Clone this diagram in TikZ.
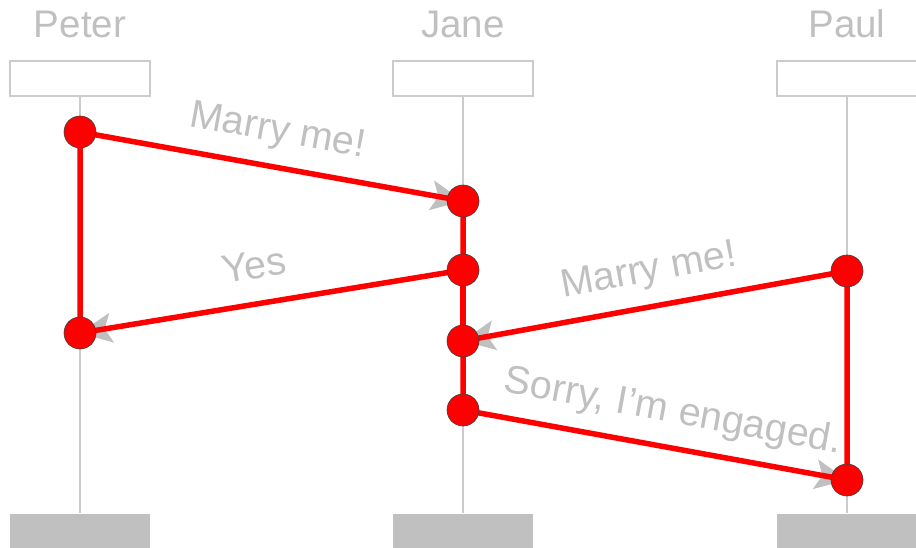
\documentclass[tikz,border=0pt]{standalone}
\usepackage{fontspec}
\setmainfont{Liberation Sans}
\usetikzlibrary{arrows.meta}
\definecolor{lgray}{HTML}{C0C0C0}
\definecolor{lline}{HTML}{CCCCCC}
\begin{document}
\begin{tikzpicture}[x=1pt,y=-1pt,
 pname/.style={font=\fontsize{38.5}{40}\selectfont, text=lgray, anchor=base, inner sep=0},
 head/.style={draw=lline, line width=1.2pt, fill=white, minimum width=140pt, minimum height=35pt, inner sep=0},
 foot/.style={fill=lgray, minimum width=140pt, minimum height=35pt, inner sep=0},
 life/.style={draw=lline, line width=1.5pt},
 dot/.style={circle, fill=red, draw=black!75, line width=0.6pt, minimum size=32pt, inner sep=0},
 msg/.style={draw=lgray, line width=2pt, -{Stealth[length=32pt,width=30pt,inset=7pt]}},
 hl/.style={draw=red, line width=5.5pt, line join=round},
 lbl/.style={font=\fontsize{39.5}{42}\selectfont, text=lgray, sloped, above=16pt, inner sep=0, text height=28pt, text depth=8pt}]
\useasboundingbox (0,0) rectangle (916,548);
% names
\node[pname] (nPeter) at (80,38) {Peter};
\node[pname] (nJane) at (463,38) {Jane};
\node[pname] (nPaul) at (847,38) {Paul};
% header and foot boxes
\node[head] (hPeter) at (80,78.5) {};
\node[head] (hJane) at (463,78.5) {};
\node[head] (hPaul) at (847,78.5) {};
\node[foot] (fPeter) at (80,531) {};
\node[foot] (fJane) at (463,531) {};
\node[foot] (fPaul) at (847,531) {};
% lifelines
\draw[life] (hPeter.south) -- (fPeter.north);
\draw[life] (hJane.south) -- (fJane.north);
\draw[life] (hPaul.south) -- (fPaul.north);
% event points
\coordinate (p1) at (80,132);
\coordinate (j1) at (463,201);
\coordinate (j2) at (463,270);
\coordinate (p2) at (80,333);
\coordinate (q1) at (847,271);
\coordinate (j3) at (463,341);
\coordinate (j4) at (463,410);
\coordinate (q2) at (847,480);
% messages
\draw[msg] (p1) -- node[lbl, pos=0.5] {Marry me!} (j1);
\draw[msg] (j2) -- node[lbl, pos=0.53] {Yes} (p2);
\draw[msg] (q1) -- node[lbl, pos=0.5] {Marry me!} (j3);
\draw[msg] (j4) -- node[lbl, pos=0.53] {Sorry, I’m engaged.} (q2);
% highlighted path
\draw[hl] (p1) -- (j1) -- (j2) -- (p2) -- cycle;
\draw[hl] (j2) -- (j3);
\draw[hl] (q1) -- (j3) -- (j4) -- (q2) -- cycle;
% dots
\foreach \c in {p1,j1,j2,p2,q1,j3,j4,q2}
  \node[dot] (d\c) at (\c) {};
\end{tikzpicture}
\end{document}
